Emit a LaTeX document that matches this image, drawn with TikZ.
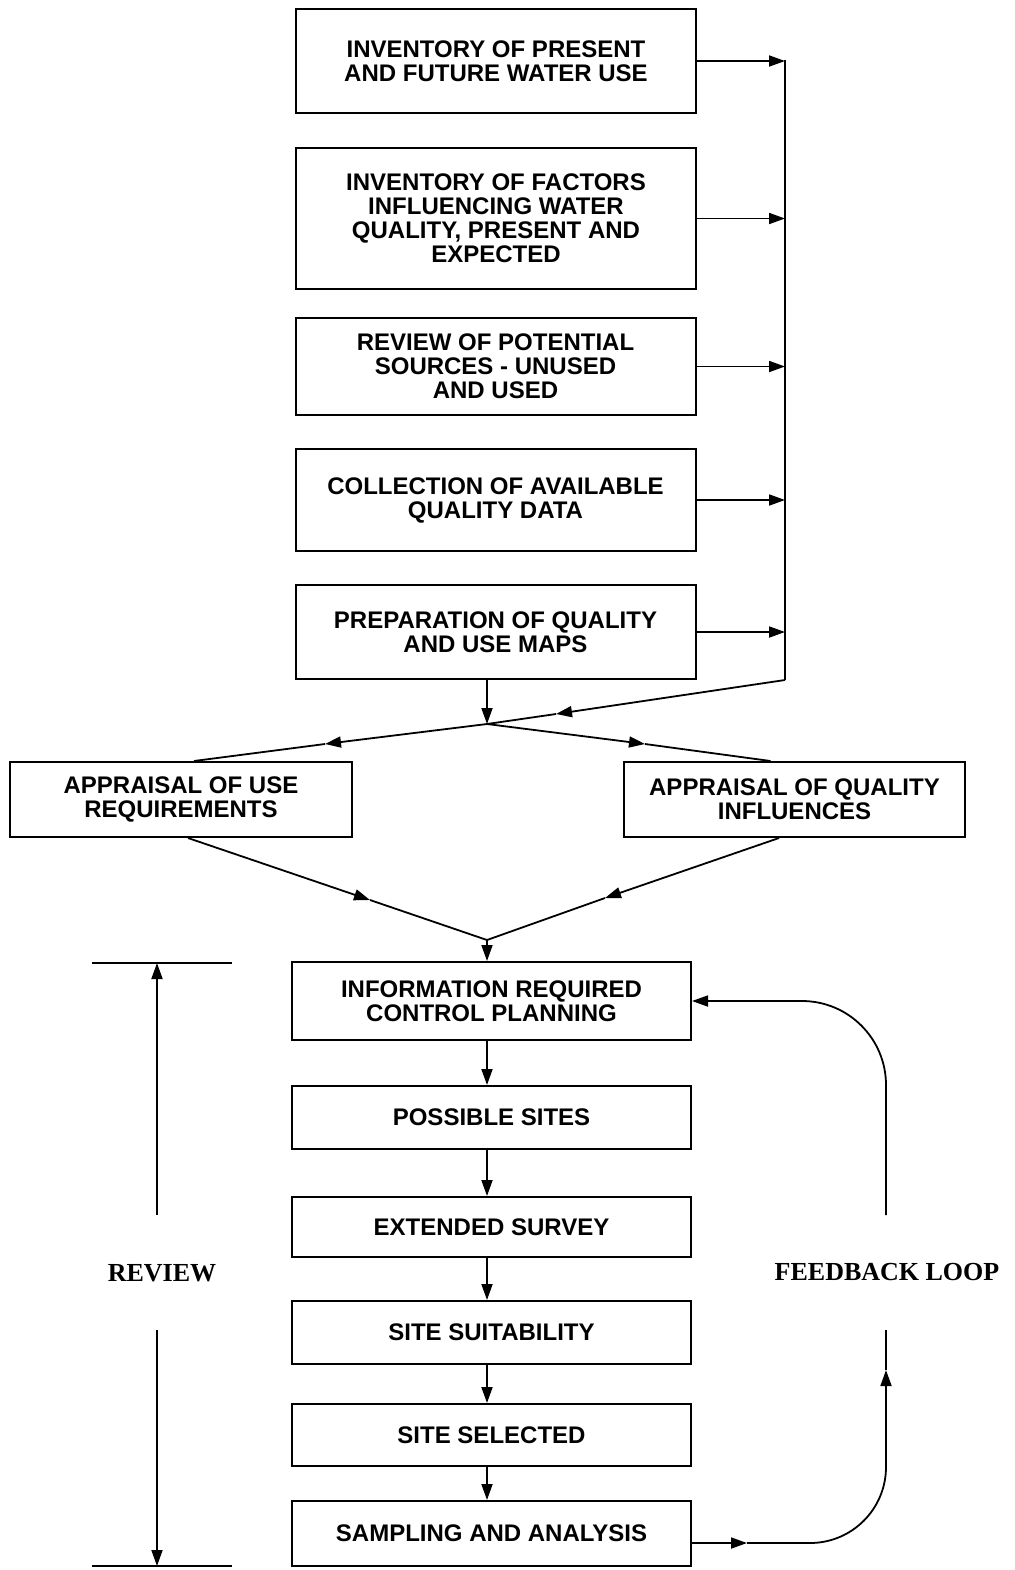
\documentclass[tikz,border=0pt]{standalone}
\usepackage{fontspec}
\setsansfont{Liberation Sans}
\newfontfamily\tagfont{Liberation Serif}
\usetikzlibrary{arrows.meta}

\tikzset{
    stage/.style={draw, line width=1pt, align=center, inner sep=0pt,
        font=\sffamily\bfseries\fontsize{12}{12}\selectfont},
    tag/.style={font=\tagfont\bfseries\fontsize{13}{13}\selectfont},
}

\begin{document}
\begin{tikzpicture}[x=0.5pt, y=-0.5pt, line width=0.9pt, >={Triangle[length=8pt,width=5.5pt]}]
    \useasboundingbox (0,0) rectangle (1014,1570);

    % inventories
    \node[stage, minimum width=200pt, minimum height=52pt] (use) at (496,61) {INVENTORY OF PRESENT\\AND FUTURE WATER USE};
    \node[stage, minimum width=200pt, minimum height=70.5pt] (factors) at (496,218.5) {INVENTORY OF FACTORS\\INFLUENCING WATER\\QUALITY, PRESENT AND\\EXPECTED};
    \node[stage, minimum width=200pt, minimum height=48.5pt] (sources) at (495.5,366.5) {REVIEW OF POTENTIAL\\SOURCES - UNUSED\\AND USED};
    \node[stage, minimum width=200pt, minimum height=51pt] (data) at (495.5,500) {COLLECTION OF AVAILABLE\\QUALITY DATA};
    \node[stage, minimum width=200pt, minimum height=47pt] (maps) at (495.5,632) {PREPARATION OF QUALITY\\AND USE MAPS};

    % appraisals
    \node[stage, minimum width=171pt, minimum height=37.5pt] (usereq) at (181,799.5) {APPRAISAL OF USE\\REQUIREMENTS};
    \node[stage, minimum width=170.5pt, minimum height=37.5pt] (qualinf) at (794.5,799.5) {APPRAISAL OF QUALITY\\INFLUENCES};

    % monitoring steps
    \node[stage, minimum width=199.5pt, minimum height=39pt] (info) at (491.5,1001) {INFORMATION REQUIRED\\CONTROL PLANNING};
    \node[stage, minimum width=199.5pt, minimum height=31.5pt] (sites) at (491.5,1117.5) {POSSIBLE SITES};
    \node[stage, minimum width=199.5pt, minimum height=30pt] (survey) at (491.5,1227) {EXTENDED SURVEY};
    \node[stage, minimum width=199.5pt, minimum height=31.5pt] (suit) at (491.5,1332.5) {SITE SUITABILITY};
    \node[stage, minimum width=199.5pt, minimum height=31pt] (selected) at (491.5,1435) {SITE SELECTED};
    \node[stage, minimum width=199.5pt, minimum height=32.5pt] (sampling) at (491.5,1533.5) {SAMPLING AND ANALYSIS};

    \node[tag] (review) at (162,1273) {REVIEW};
    \node[tag] (feedback) at (887,1272) {FEEDBACK LOOP};

    % collecting line on the right
    \coordinate (bus) at (785,60);
    \coordinate (busend) at (785,680);
    \draw (bus) -- (busend);
    \foreach \n in {use,factors,sources,data,maps}
        \draw[->] (\n.east) -- (\n.east -| bus);

    % split to the appraisals
    \coordinate (split) at (487,724);
    \coordinate (m0) at (556,714);
    \coordinate (m1) at (325,744);
    \coordinate (m2) at (645,744);
    \draw[->] (maps.south -| split) -- (split);
    \draw[->] (busend) -- (m0);
    \draw (m0) -- (split);
    \draw[->] (split) -- (m1);
    \draw (m1) -- ([xshift=6.5pt]usereq.north);
    \draw[->] (split) -- (m2);
    \draw (m2) -- ([xshift=-12pt]qualinf.north);

    % merge into the steps
    \coordinate (merge) at (487,940);
    \coordinate (m3) at (370,900);
    \coordinate (m4) at (605,898);
    \draw[->] ([xshift=3.5pt]usereq.south) -- (m3);
    \draw (m3) -- (merge);
    \draw[->] ([xshift=-7.75pt]qualinf.south) -- (m4);
    \draw (m4) -- (merge);
    \draw[->] (merge) -- (info.north -| merge);

    \draw[->] (info.south -| merge) -- (sites.north -| merge);
    \draw[->] (sites.south -| merge) -- (survey.north -| merge);
    \draw[->] (survey.south -| merge) -- (suit.north -| merge);
    \draw[->] (suit.south -| merge) -- (selected.north -| merge);
    \draw[->] (selected.south -| merge) -- (sampling.north -| merge);

    % review span
    \coordinate (rvtop) at (157,963);
    \coordinate (rvbot) at (157,1566);
    \coordinate (rvA) at (157,1215);
    \coordinate (rvB) at (157,1330);
    \draw (92,963) -- (232,963);
    \draw (92,1566) -- (232,1566);
    \draw[->] (rvA) -- (rvtop);
    \draw[->] (rvB) -- (rvbot);

    % feedback loop
    \coordinate (fbup) at (886,1215);
    \coordinate (fbin) at (747,1543);
    \coordinate (fbmid) at (886,1370);
    \coordinate (fblow) at (886,1330);
    \draw[->, rounded corners=42pt] (fbup) |- (info.east);
    \draw[->] (sampling.east |- fbin) -- (fbin);
    \draw[->, rounded corners=38pt] (fbin) -| (fbmid);
    \draw (fbmid) -- (fblow);
\end{tikzpicture}
\end{document}
